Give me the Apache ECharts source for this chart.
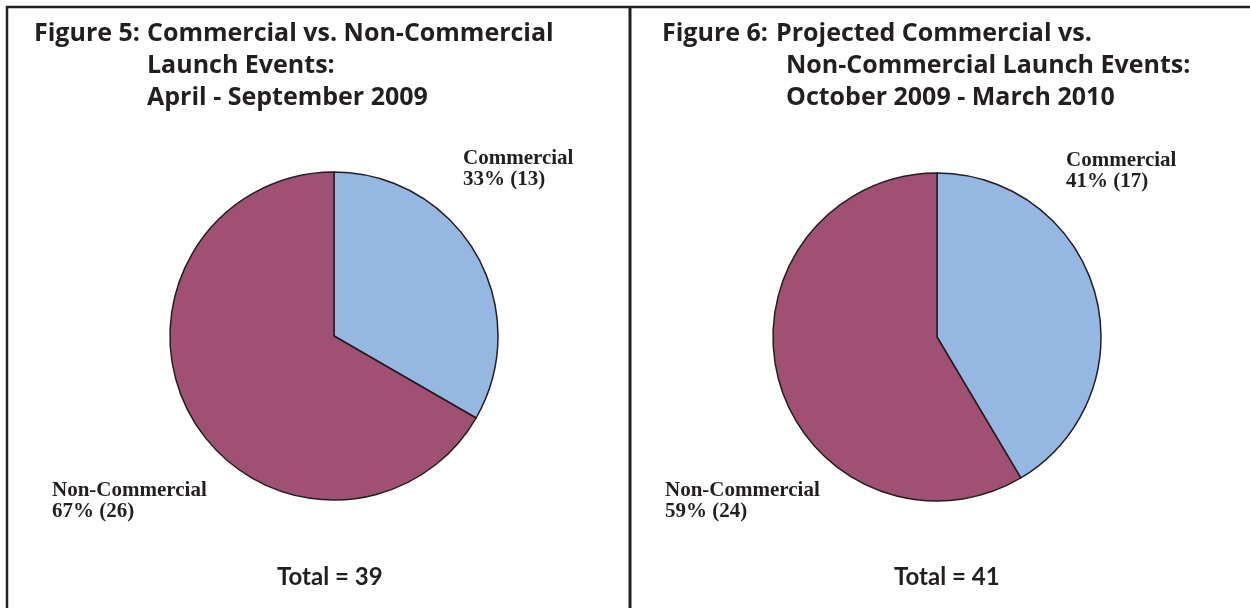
<!DOCTYPE html>
<html>
<head>
<meta charset="utf-8">
<style>
  html, body { margin: 0; padding: 0; background: #fff; }
  #chart { width: 1250px; height: 608px; }
</style>
<script src="https://cdn.jsdelivr.net/npm/echarts@6/dist/echarts.min.js"></script>
</head>
<body>
<div id="chart"></div>
<script>
// slice names and counts
const sliceNames = ['Commercial', 'Non-Commercial'];
const fig5Values = [13, 26];
const fig6Values = [17, 24];
const sliceColors = ['#95b7e1', '#a05073'];

const fig5Title = ['Figure 5:', 'Commercial vs. Non-Commercial', 'Launch Events:', 'April - September 2009'];
const fig6Title = ['Figure 6:', 'Projected Commercial vs.', 'Non-Commercial Launch Events:', 'October 2009 - March 2010'];

const titleFont = '"Open Sans"';
const labelFont = '"Liberation Serif", "DejaVu Serif", serif';

function total(arr) {
    return arr.reduce((a, b) => a + b, 0);
}

function makeData(values) {
    return sliceNames.map((n, i) => ({
        name: n,
        value: values[i],
        itemStyle: { color: sliceColors[i] }
    }));
}

// labelPos: top-left corner of each slice label
function pieSeries(values, center, labelPos) {
    const sum = total(values);
    return {
        type: 'pie',
        center: center,
        radius: 164,
        startAngle: 90,
        clockwise: true,
        animation: false,
        silent: true,
        itemStyle: { borderColor: '#231f20', borderWidth: 1.5 },
        label: {
            show: true,
            formatter: p => p.name + '\n' + Math.round(p.value / sum * 100) + '% (' + p.value + ')',
            fontFamily: labelFont,
            fontWeight: 'bold',
            fontSize: 21,
            lineHeight: 21,
            color: '#231f20',
            align: 'left',
            overflow: 'none',
            width: 300
        },
        labelLine: { show: false },
        labelLayout: function (params) {
            const p = labelPos[params.dataIndex];
            return { x: p[0], y: p[1], align: 'left', verticalAlign: 'top' };
        },
        data: makeData(values)
    };
}

function titleTexts(lines, x0, x1) {
    const out = [];
    const ys = [21, 53, 85];
    const f = 'bold 25px ' + titleFont;
    out.push({ type: 'text', left: x0, top: ys[0], style: { text: lines[0], font: f, fill: '#231f20' } });
    for (let i = 1; i < lines.length; i++) {
        out.push({ type: 'text', left: x1[i - 1], top: ys[i - 1], style: { text: lines[i], font: f, fill: '#231f20' } });
    }
    return out;
}

const chart = echarts.init(document.getElementById('chart'));

const graphics = [
    // frame
    { type: 'rect', shape: { x: 7, y: 7, width: 1250, height: 610 }, style: { fill: 'none', stroke: '#231f20', lineWidth: 2.5 } },
    { type: 'line', shape: { x1: 630, y1: 7, x2: 630, y2: 608 }, style: { stroke: '#231f20', lineWidth: 3 } }
];
graphics.push(...titleTexts(fig5Title, 34, [147, 147, 147]));
graphics.push(...titleTexts(fig6Title, 662, [776, 786, 786]));
graphics.push({ type: 'text', left: 277, top: 565, style: { text: 'Total = ' + total(fig5Values), font: 'bold 24px Lato', fill: '#231f20' } });
graphics.push({ type: 'text', left: 894, top: 565, style: { text: 'Total = ' + total(fig6Values), font: 'bold 24px Lato', fill: '#231f20' } });

chart.setOption({
    backgroundColor: '#fff',
    graphic: graphics,
    series: [
        pieSeries(fig5Values, [334, 336], [[463, 148], [52, 480]]),
        pieSeries(fig6Values, [937, 337], [[1066, 150], [665, 480]])
    ]
});
</script>
</body>
</html>
